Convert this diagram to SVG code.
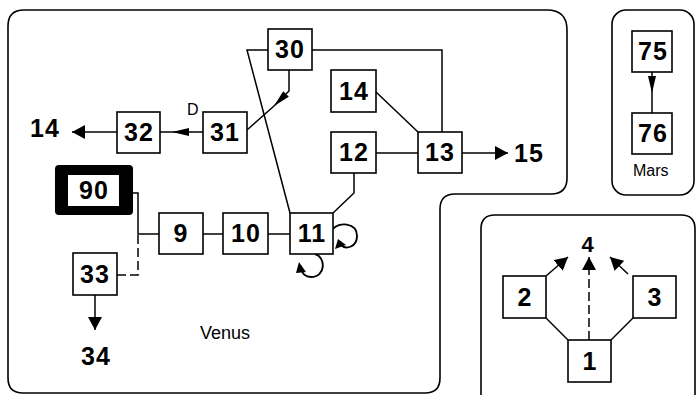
<svg xmlns="http://www.w3.org/2000/svg" width="696" height="395" viewBox="0 0 696 395">
<style>
.bg{fill:#fff}
.frame{fill:none;stroke:#000;stroke-width:1.6}
.box{fill:#fff;stroke:#000;stroke-width:1.6}
.num{font-family:"Liberation Sans",Arial,Helvetica,sans-serif;font-weight:bold;font-size:25px;letter-spacing:1px;text-anchor:middle;fill:#000}
.lbl{font-family:"Liberation Sans",Arial,Helvetica,sans-serif;font-size:18px;fill:#000}
.ln{fill:none;stroke:#000;stroke-width:1.5}
.loop{fill:none;stroke:#000;stroke-width:1.9}
.head{fill:#000}
.dash{stroke-dasharray:9,4}
</style>
<defs>
<marker id="ah" markerUnits="userSpaceOnUse" markerWidth="14" markerHeight="14" refX="13" refY="7" orient="auto"><path d="M0,0 L13,7 L0,14 z" fill="#000"/></marker>
<marker id="an" markerUnits="userSpaceOnUse" markerWidth="18" markerHeight="8" refX="17" refY="4" orient="auto"><path d="M0,0 L17,4 L0,8 z" fill="#000"/></marker>
</defs>
<rect class="bg" x="0" y="0" width="696" height="395"/>

<g id="venus">
<path class="frame" d="M24,10 H547 Q567,10 567,30 V178 Q567,194 551,194 H455 Q440,194 440,209 V378 Q440,393 425,393 H23 Q8,393 8,378 V26 Q8,10 24,10 Z"/>
<text class="lbl" x="200" y="339">Venus</text>
</g>
<g id="mars">
<rect class="frame" x="612" y="10" width="82" height="185" rx="14"/>
<text class="lbl" x="633" y="176" style="font-size:16px">Mars</text>
</g>
<g id="group3">
<path class="frame" d="M481,397 V229 Q481,215 495,215 H681 Q695,215 695,229 V397"/>
</g>

<g id="connectors">
<path class="ln" d="M117,132 H72" marker-end="url(#ah)"/>
<path class="ln" d="M203,132 H172" marker-end="url(#an)"/>
<path class="ln" d="M172,132 H160"/>
<path class="ln" d="M289,70 V91 L274,106" marker-end="url(#an)"/>
<path class="ln" d="M274,106 L247,130"/>
<path class="ln" d="M268,50 H247 L290,213"/>
<path class="ln" d="M312,50 H442 V132"/>
<path class="ln" d="M376,92 L418,132"/>
<path class="ln" d="M376,153 H418"/>
<path class="ln" d="M462,153 H508" marker-end="url(#ah)"/>
<path class="ln" d="M354,173 V193 L333,213"/>
<path class="ln" d="M203,234 H223"/>
<path class="ln" d="M268,234 H290"/>
<path class="ln" d="M133,193 H138 V234 H159"/>
<path class="ln dash" d="M117,275 H138 V234"/>
<path class="ln" d="M95,295 V330" marker-end="url(#ah)"/>
<path class="loop" d="M333,229 C338,222 357,222 357,236 C357,247 346,250 341,245"/>
<polygon class="head" points="335,249 338,239 346,245"/>
<path class="loop" d="M315,254 C326,257 326,277 311,277 C305,277 302,273 302,270"/>
<polygon class="head" points="299,262 296,273 306,272"/>
<path class="ln" d="M652,72 V93" marker-end="url(#an)"/>
<path class="ln" d="M652,93 V113"/>
<path class="ln" d="M546,276 L568,257" marker-end="url(#ah)"/>
<path class="ln" d="M628,274 L610,257" marker-end="url(#ah)"/>
<path class="ln dash" d="M589,340 V257" marker-end="url(#ah)"/>
<path class="ln" d="M546,318 L568,340"/>
<path class="ln" d="M633,318 L611,340"/>
<text class="lbl" x="187" y="115" style="font-size:16px">D</text>
</g>

<g id="n30"><rect class="box" x="268" y="29" width="44" height="41"/><text class="num" x="290" y="58">30</text></g>
<g id="n31"><rect class="box" x="203" y="112" width="44" height="41"/><text class="num" x="225" y="141">31</text></g>
<g id="n32"><rect class="box" x="117" y="112" width="43" height="41"/><text class="num" x="139" y="141">32</text></g>
<g id="n14"><rect class="box" x="331" y="70" width="45" height="42"/><text class="num" x="354" y="100">14</text></g>
<g id="n12"><rect class="box" x="331" y="132" width="45" height="41"/><text class="num" x="354" y="161">12</text></g>
<g id="n13"><rect class="box" x="418" y="132" width="44" height="41"/><text class="num" x="440" y="161">13</text></g>
<g id="n90"><rect x="55" y="165" width="78" height="50" rx="4" fill="#000"/><rect x="68" y="175" width="51" height="31" fill="#fff"/><text class="num" x="94" y="199">90</text></g>
<g id="n9"><rect class="box" x="159" y="213" width="44" height="41"/><text class="num" x="181" y="242">9</text></g>
<g id="n10"><rect class="box" x="223" y="213" width="45" height="41"/><text class="num" x="246" y="242">10</text></g>
<g id="n11"><rect class="box" x="290" y="213" width="43" height="41"/><text class="num" x="312" y="242">11</text></g>
<g id="n33"><rect class="box" x="73" y="253" width="44" height="42"/><text class="num" x="95" y="283">33</text></g>
<g id="t14"><text class="num" x="45" y="137">14</text></g>
<g id="t15"><text class="num" x="529" y="162">15</text></g>
<g id="t34"><text class="num" x="96" y="365">34</text></g>
<g id="n75"><rect class="box" x="632" y="31" width="40" height="41"/><text class="num" x="653" y="60">75</text></g>
<g id="n76"><rect class="box" x="632" y="113" width="40" height="41"/><text class="num" x="653" y="142">76</text></g>
<g id="n2"><rect class="box" x="503" y="276" width="43" height="42"/><text class="num" x="525" y="306">2</text></g>
<g id="n3"><rect class="box" x="633" y="276" width="43" height="42"/><text class="num" x="655" y="306">3</text></g>
<g id="n1"><rect class="box" x="568" y="340" width="43" height="42"/><text class="num" x="590" y="370">1</text></g>
<g id="t4"><text class="num" x="588" y="252" style="font-size:22px">4</text></g>
</svg>
